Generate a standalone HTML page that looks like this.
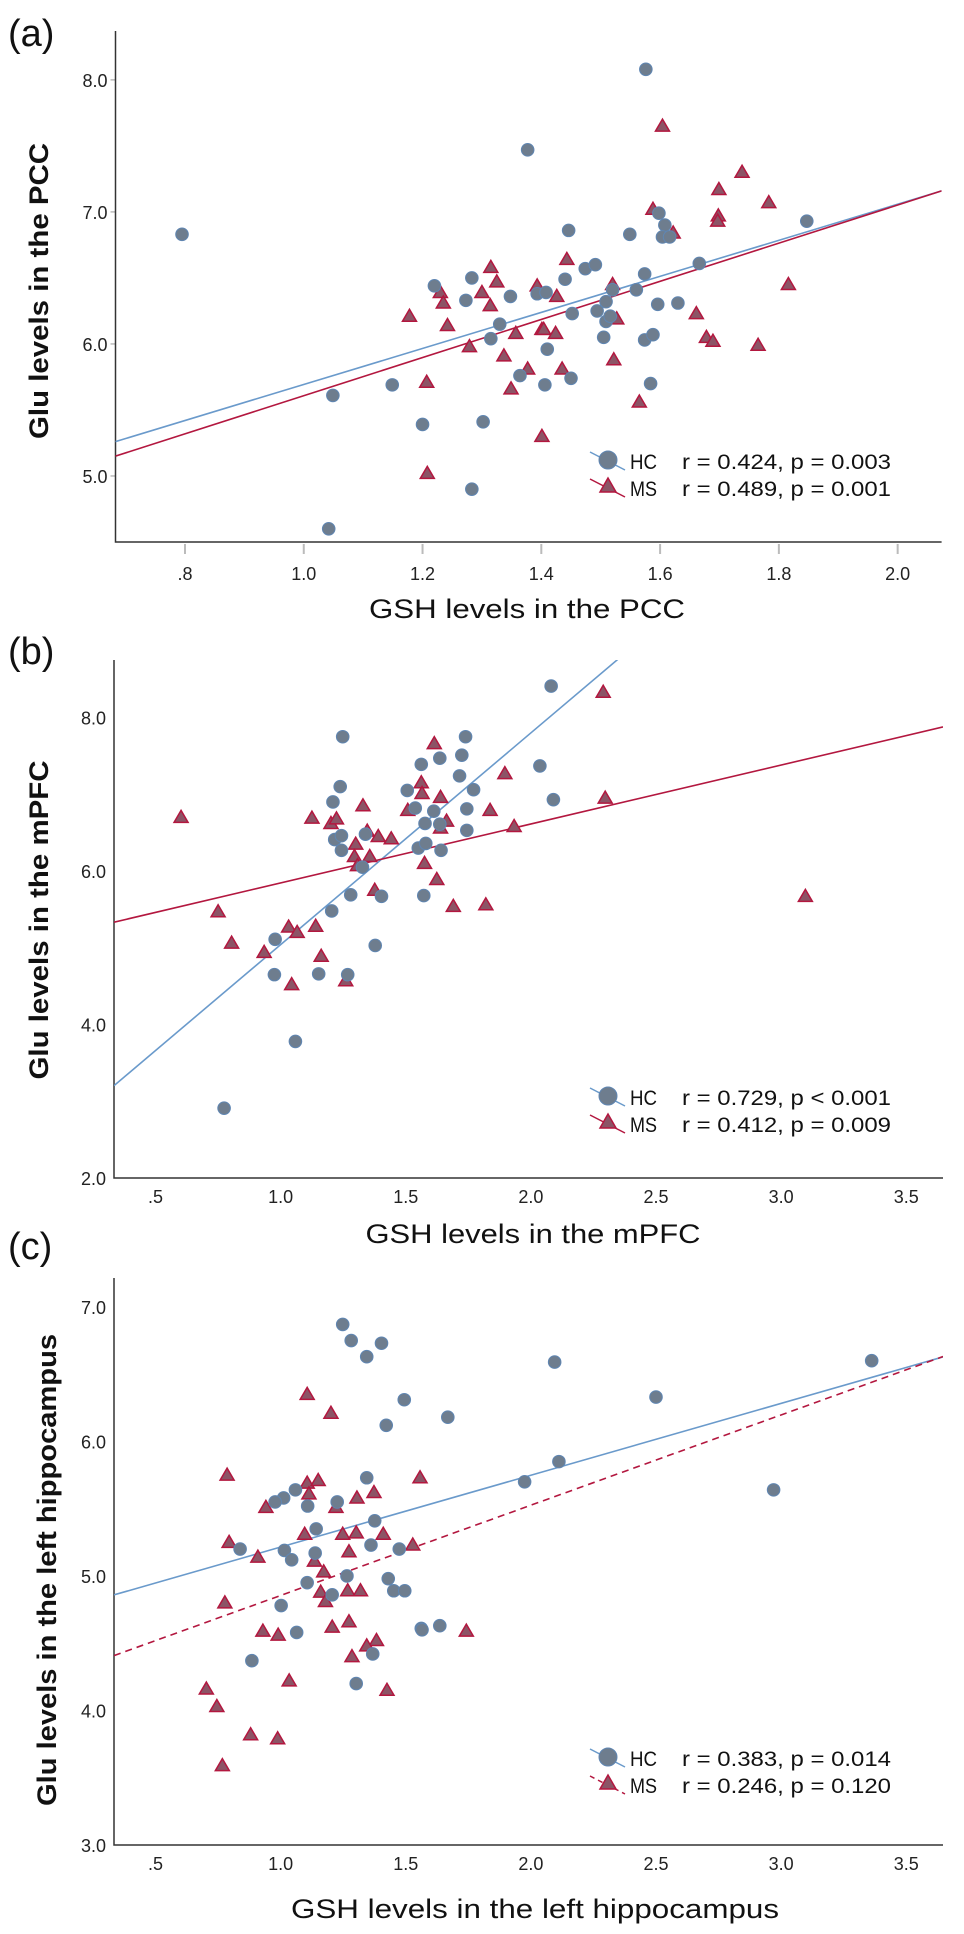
<!DOCTYPE html>
<html><head><meta charset="utf-8">
<style>
html,body{margin:0;padding:0;background:#fff;}
svg{display:block;font-family:"Liberation Sans",Arial,sans-serif;}
</style></head>
<body>
<svg id="fig" width="964" height="1934" viewBox="0 0 964 1934" xmlns="http://www.w3.org/2000/svg"></svg>
<script>
// ---------- DATA ----------
const aHcX=[0.795,1.576,1.377,1.049,1.042,1.149,1.200,1.302,1.283,1.220,1.283,1.273,1.315,1.330,1.348,1.364,1.393,1.408,1.406,1.410,1.440,1.446,1.452,1.450,1.474,1.491,1.494,1.505,1.509,1.509,1.520,1.516,1.549,1.560,1.574,1.574,1.588,1.584,1.596,1.598,1.608,1.604,1.616,1.630,1.666,1.847];
const aHcY=[6.83,8.08,7.47,5.61,4.60,5.69,5.39,5.41,4.90,6.44,6.50,6.33,6.04,6.15,6.36,5.76,6.38,6.39,5.69,5.96,6.49,6.86,6.23,5.74,6.57,6.60,6.25,6.05,6.17,6.32,6.41,6.21,6.83,6.41,6.53,6.03,6.07,5.70,6.30,6.99,6.90,6.81,6.81,6.31,6.61,6.93];
const aMsX=[1.604,1.738,1.699,1.783,1.698,1.697,1.588,1.622,1.816,1.178,1.230,1.235,1.242,1.315,1.325,1.300,1.314,1.279,1.207,1.208,1.337,1.357,1.349,1.377,1.393,1.401,1.404,1.424,1.426,1.443,1.435,1.401,1.520,1.527,1.522,1.565,1.661,1.678,1.689,1.765];
const aMsY=[7.65,7.30,7.17,7.07,6.97,6.93,7.02,6.84,6.45,6.21,6.39,6.31,6.14,6.58,6.47,6.39,6.29,5.98,5.71,5.02,5.91,6.08,5.66,5.81,6.44,6.11,6.11,6.08,6.36,6.64,5.81,5.30,6.45,6.19,5.88,5.56,6.23,6.05,6.02,5.99];
const aFit=[4.328,1.365, 4.164,1.444];
const aStats=["r = 0.424, p = 0.003","r = 0.489, p = 0.001"];

const bHcX=[2.081,1.248,1.238,1.209,1.216,1.243,1.243,1.339,1.327,1.280,1.403,1.204,0.978,0.975,1.152,1.268,1.378,1.059,0.774,1.562,1.636,1.724,1.739,2.036,1.715,1.771,1.506,1.538,1.612,1.744,2.090,1.577,1.636,1.744,1.550,1.580,1.641,1.572];
const bHcY=[8.41,7.75,7.10,6.90,6.41,6.46,6.27,6.48,6.05,5.69,5.67,5.48,5.11,4.65,4.66,4.65,5.03,3.78,2.91,7.39,7.47,7.51,7.75,7.37,7.24,7.06,7.05,6.82,6.78,6.81,6.93,6.62,6.61,6.53,6.30,6.36,6.27,5.68];
const bMsX=[0.602,0.750,0.804,0.934,1.032,1.066,1.044,1.125,1.201,1.223,1.140,1.162,1.260,1.329,1.346,1.390,1.442,1.300,1.295,1.356,1.307,1.376,1.508,1.562,1.565,1.614,1.639,1.663,1.639,1.575,1.624,1.690,1.820,1.837,1.896,1.933,2.289,2.297,3.097];
const bMsY=[6.70,5.47,5.06,4.94,5.27,5.20,4.52,6.69,6.62,6.68,5.28,4.89,4.57,6.85,6.52,6.45,6.42,6.35,6.19,6.19,6.07,5.75,6.79,7.15,7.01,7.66,6.96,6.65,6.56,6.10,5.89,5.54,5.56,6.79,7.27,6.58,8.33,6.95,5.67];
const bFit=[2.282,2.759, 5.077,0.768];
const bStats=["r = 0.729, p < 0.001","r = 0.412, p = 0.009"];

const cHcX=[1.248,1.282,1.403,1.344,2.095,3.362,2.500,1.494,1.668,1.422,2.112,1.975,2.970,1.344,1.059,1.012,0.978,1.226,1.108,1.376,1.142,1.361,0.838,1.015,1.138,1.474,1.044,1.265,1.430,1.106,1.206,1.452,1.496,1.002,1.064,1.562,1.636,1.565,0.885,1.368,1.302];
const cHcY=[6.87,6.75,6.73,6.63,6.59,6.60,6.33,6.31,6.18,6.12,5.85,5.70,5.64,5.73,5.64,5.58,5.55,5.55,5.52,5.41,5.35,5.23,5.20,5.19,5.17,5.20,5.12,5.00,4.98,4.95,4.86,4.89,4.89,4.78,4.58,4.61,4.63,4.60,4.37,4.42,4.20];
const cMsX=[1.106,1.201,0.786,1.106,1.150,1.113,0.941,1.221,1.305,1.373,1.557,1.096,1.248,1.302,1.410,0.794,0.909,1.273,1.528,1.135,1.172,1.160,1.268,1.319,1.179,0.777,1.206,1.273,0.929,0.990,1.742,1.383,1.344,1.285,1.034,1.425,0.703,0.745,0.880,0.988,0.767];
const cMsY=[6.35,6.21,5.75,5.69,5.71,5.61,5.51,5.51,5.58,5.62,5.73,5.31,5.31,5.32,5.31,5.25,5.14,5.18,5.23,5.11,5.03,4.88,4.89,4.89,4.81,4.80,4.62,4.66,4.59,4.56,4.59,4.52,4.48,4.40,4.22,4.15,4.16,4.03,3.82,3.79,3.59];
const cFit=[4.681,0.534, 4.184,0.671];
const cStats=["r = 0.383, p = 0.014","r = 0.246, p = 0.120"];

const aXTicks=[0.8,1.0,1.2,1.4,1.6,1.8,2.0];
const aXLabels=[".8","1.0","1.2","1.4","1.6","1.8","2.0"];
const aYTicks=[5,6,7,8];
const aYLabels=["5.0","6.0","7.0","8.0"];
const bcXTicks=[0.5,1.0,1.5,2.0,2.5,3.0,3.5];
const bcXLabels=[".5","1.0","1.5","2.0","2.5","3.0","3.5"];
const bYTicks=[2,4,6,8];
const bYLabels=["2.0","4.0","6.0","8.0"];
const cYTicks=[3,4,5,6,7];
const cYLabels=["3.0","4.0","5.0","6.0","7.0"];

// ---------- LAYOUT ----------
const NS="http://www.w3.org/2000/svg";
const svg=document.getElementById('fig');
function mk(tag,attrs,parent){const e=document.createElementNS(NS,tag);for(const k in attrs)e.setAttribute(k,attrs[k]);(parent||svg).appendChild(e);return e;}

const panels=[
 {id:'a',tag:'(a)',tagY:46,L:115.5,R:941.6,T:31,B:542,x0:0.683,x1:2.074,y0:4.50,y1:8.37,xLabOff:38,tickMarks:true,
  hx:aHcX,hy:aHcY,mx:aMsX,my:aMsY,fit:aFit,stats:aStats,xt:aXTicks,xl:aXLabels,yt:aYTicks,yl:aYLabels,
  xTitle:"GSH levels in the PCC",xTitleY:618,xTitleX:527,xTitleW:316,yTitle:"Glu levels in the PCC",yTitleX:48,yTitleY:291,yTitleW:296,legY:460,dashed:false},
 {id:'b',tag:'(b)',tagY:664,L:114,R:943,T:660,B:1178,x0:0.334,x1:3.647,y0:2.0,y1:8.75,xLabOff:25,tickMarks:false,
  hx:bHcX,hy:bHcY,mx:bMsX,my:bMsY,fit:bFit,stats:bStats,xt:bcXTicks,xl:bcXLabels,yt:bYTicks,yl:bYLabels,
  xTitle:"GSH levels in the mPFC",xTitleY:1243,xTitleX:533,xTitleW:335,yTitle:"Glu levels in the mPFC",yTitleX:48,yTitleY:920,yTitleW:319,legY:1096,dashed:false},
 {id:'c',tag:'(c)',tagY:1259,L:114,R:943,T:1278,B:1845,x0:0.334,x1:3.647,y0:3.0,y1:7.215,xLabOff:25,tickMarks:false,
  hx:cHcX,hy:cHcY,mx:cMsX,my:cMsY,fit:cFit,stats:cStats,xt:bcXTicks,xl:bcXLabels,yt:cYTicks,yl:cYLabels,
  xTitle:"GSH levels in the left hippocampus",xTitleY:1918,xTitleX:535,xTitleW:488,yTitle:"Glu levels in the left hippocampus",yTitleX:56,yTitleY:1570,yTitleW:472,legY:1757,dashed:true}
];

const HC_FILL="#6e7d8e", HC_STROKE="#5f86b3", HC_LINE="#6a9acb";
const MS_FILL="#8c5466", MS_STROKE="#b3173f", MS_LINE="#b3173f";

panels.forEach(p=>{
  const sx=v=>p.L+(v-p.x0)/(p.x1-p.x0)*(p.R-p.L);
  const sy=v=>p.B-(v-p.y0)/(p.y1-p.y0)*(p.B-p.T);
  const g=mk('g',{});
  
  

  const tag=mk('text',{x:8,y:p.tagY,'font-size':38,fill:'#111'},g);
  tag.textContent=p.tag;
  
  

  const clipId='clip'+p.id;
  const cp=mk('clipPath',{id:clipId},g);
  mk('rect',{x:p.L,y:p.T,width:p.R-p.L,height:p.B-p.T},cp);

  p.xt.forEach((v,i)=>{
    if(p.tickMarks){
      const t=mk('line',{x1:sx(v),x2:sx(v),y1:p.B+2,y2:p.B+12,stroke:'#bbb','stroke-width':2},g);
      
      
    }
    const tl=mk('text',{x:sx(v),y:p.B+p.xLabOff,'font-size':18,'text-anchor':'middle',fill:'#222'},g);
    tl.textContent=p.xl[i];
    
    
  });
  p.yt.forEach((v,i)=>{
    if(p.tickMarks){
      const t=mk('line',{x1:p.L-5,x2:p.L,y1:sy(v),y2:sy(v),stroke:'#bbb','stroke-width':1.5},g);
      
      
    }
    const tl=mk('text',{x:p.L-8,y:sy(v)+7,'font-size':18,'text-anchor':'end',fill:'#222'},g);
    tl.textContent=p.yl[i];
    
    
  });

  const ax=mk('path',{d:`M${p.L},${p.T} V${p.B} H${p.R}`,fill:'none',stroke:'#333','stroke-width':1.5},g);
  
  

  const fg=mk('g',{'clip-path':`url(#${clipId})`},g);
  [[p.fit[0],p.fit[1],HC_LINE,false,'hc-fit-line'],[p.fit[2],p.fit[3],MS_LINE,p.dashed,'ms-fit-line']].forEach(f=>{
    const a={x1:sx(p.x0),y1:sy(f[0]+f[1]*p.x0),x2:sx(p.x1),y2:sy(f[0]+f[1]*p.x1),stroke:f[2],'stroke-width':1.6};
    if(f[3])a['stroke-dasharray']='7,5';
    const l=mk('line',a,fg);
    
    
  });

  p.mx.forEach((x,i)=>{
    const cx=sx(x),cy=sy(p.my[i]);
    const t=mk('polygon',{points:`${cx},${cy-7} ${cx-7},${cy+5} ${cx+7},${cy+5}`,fill:MS_FILL,stroke:MS_STROKE,'stroke-width':1.5},g);
    
    
  });
  p.hx.forEach((x,i)=>{
    const c=mk('circle',{cx:sx(x),cy:sy(p.hy[i]),r:6.3,fill:HC_FILL,stroke:HC_STROKE,'stroke-width':1},g);
    
    
  });

  const lg=mk('g',{},g);
  
  
  const y1=p.legY,y2=p.legY+27;
  mk('line',{x1:590,y1:y1-8,x2:625,y2:y1+10,stroke:HC_LINE,'stroke-width':1.5},lg);
  mk('circle',{cx:608,cy:y1,r:9,fill:HC_FILL,stroke:HC_STROKE,'stroke-width':1},lg);
  const l2=mk('line',{x1:590,y1:y2-8,x2:625,y2:y2+10,stroke:MS_LINE,'stroke-width':1.5},lg);
  if(p.dashed)l2.setAttribute('stroke-dasharray','5,4');
  mk('polygon',{points:`608,${y2-9} 600,${y2+5} 616,${y2+5}`,fill:MS_FILL,stroke:MS_STROKE,'stroke-width':1.5},lg);
  const e1=mk('text',{x:630,y:y1+9,'font-size':21,fill:'#111',textLength:27,lengthAdjust:'spacingAndGlyphs'},lg);
  e1.textContent='HC';
  
  
  const e2=mk('text',{x:630,y:y2+9,'font-size':21,fill:'#111',textLength:27,lengthAdjust:'spacingAndGlyphs'},lg);
  e2.textContent='MS';
  
  
  const s1=mk('text',{x:682,y:y1+9,'font-size':21,fill:'#111',textLength:209,lengthAdjust:'spacingAndGlyphs'},lg);
  s1.textContent=p.stats[0];
  
  
  const s2=mk('text',{x:682,y:y2+9,'font-size':21,fill:'#111',textLength:209,lengthAdjust:'spacingAndGlyphs'},lg);
  s2.textContent=p.stats[1];
  
  

  const xt=mk('text',{x:p.xTitleX,y:p.xTitleY,'font-size':27,'text-anchor':'middle',fill:'#111',textLength:p.xTitleW,lengthAdjust:'spacingAndGlyphs'},g);
  xt.textContent=p.xTitle;
  
  
  const yt=mk('text',{x:0,y:0,'font-size':27,'font-weight':'bold','text-anchor':'middle',fill:'#111',textLength:p.yTitleW,lengthAdjust:'spacingAndGlyphs',transform:`translate(${p.yTitleX},${p.yTitleY}) rotate(-90)`},g);
  yt.textContent=p.yTitle;
  
  
});
</script>
</body></html>
